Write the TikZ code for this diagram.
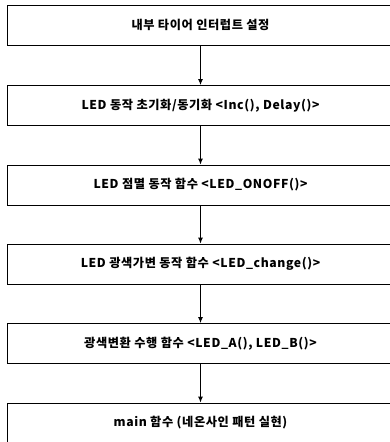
\documentclass[tikz,border=0pt]{standalone}
\usepackage{fontspec}
\setmainfont{Noto Sans CJK KR}[LetterSpace=5]
\usetikzlibrary{arrows.meta}
\begin{document}
\begin{tikzpicture}[x=1pt,y=-1pt,
  stepbox/.style={draw=black,line width=0.9pt,minimum width=387pt,minimum height=40pt,inner sep=0pt,font=\bfseries\fontsize{12.2}{14}\selectfont},
  flow/.style={draw=black,line width=0.9pt,-{Latex[length=6pt,width=5pt]}}]
\useasboundingbox (0,0) rectangle (390,442);
\node[stepbox] (b1) at (200.5,25) {내부 타이어 인터럽트 설정};
\node[stepbox] (b2) at (200.5,105.5) {LED 동작 초기화/동기화 <Inc(), Delay()>};
\node[stepbox] (b3) at (200.5,185) {LED 점멸 동작 함수 <LED\_ONOFF()>};
\node[stepbox] (b4) at (200.5,264) {LED 광색가변 동작 함수 <LED\_change()>};
\node[stepbox] (b5) at (200.5,343.5) {광색변환 수행 함수 <LED\_A(), LED\_B()>};
\node[stepbox] (b6) at (200.5,423) {main 함수 (네온사인 패턴 실현)};
\foreach \a/\b in {b1/b2,b2/b3,b3/b4,b4/b5,b5/b6}
  \draw[flow] (\a.south) -- (\b.north);
\end{tikzpicture}
\end{document}
